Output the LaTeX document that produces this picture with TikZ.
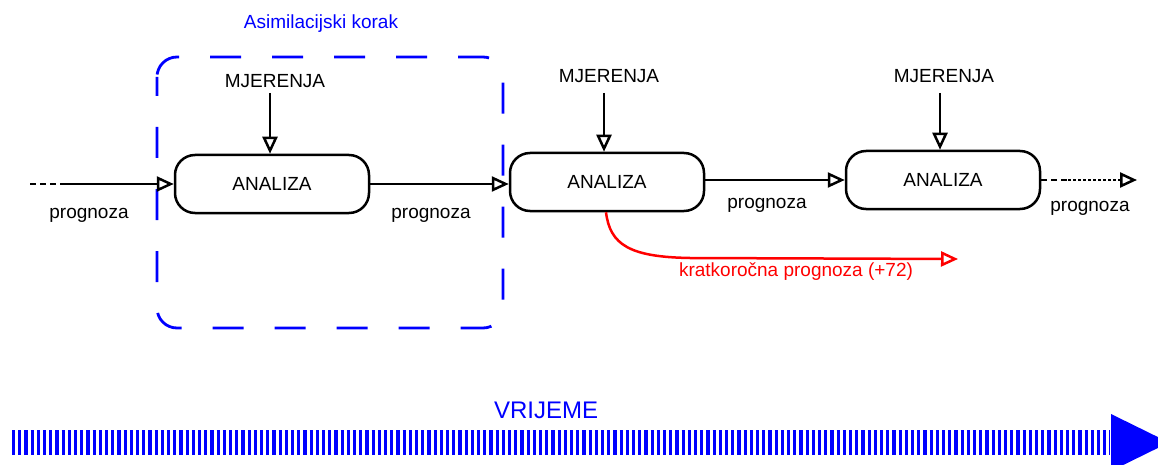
\documentclass[tikz,border=0pt]{standalone}
\usepackage{fontspec}
\setmainfont{Liberation Sans}
\usetikzlibrary{arrows.meta}
\definecolor{pureblue}{RGB}{0,0,255}
\definecolor{purered}{RGB}{255,0,0}
\begin{document}
\begin{tikzpicture}[x=1pt,y=-1pt,
  txt/.style={inner sep=0pt,font=\fontsize{19}{21}\selectfont},
  anbox/.style={draw,line width=2.5pt,rounded corners=20pt,minimum width=194pt,minimum height=58pt,inner sep=0pt,font=\fontsize{19}{21}\selectfont},
  otip/.style={-{Triangle[open,length=17pt,width=15pt,line width=2.5pt]}},
  conn/.style={line width=2.5pt,otip},
]
\useasboundingbox (0,0) rectangle (1158,465);
\clip (0,0) rectangle (1158,465);

% assimilation frame
\draw[pureblue,line width=2.8pt,rounded corners=20pt,dash pattern=on 31pt off 31pt,dash phase=12pt] (157,57) rectangle (503,328);
\node[txt,text=pureblue] (asim) at (321,24) {Asimilacijski korak};

% boxes
\node[anbox] (b1) at (272,184) {\raisebox{-6pt}{ANALIZA}};
\node[anbox] (b2) at (607,182) {\raisebox{-4pt}{ANALIZA}};
\node[anbox] (b3) at (943,180) {\raisebox{-6pt}{ANALIZA}};

% measurements
\node[txt] (m1) at (275,81) {MJERENJA};
\node[txt] (m2) at (609,76) {MJERENJA};
\node[txt] (m3) at (944,76) {MJERENJA};
\coordinate (m1s) at (270,93);
\coordinate (m2s) at (604,93);
\coordinate (m3s) at (940,93);
\draw[conn] (m1s) -- (m1s |- b1.north);
\draw[conn] (m2s) -- (m2s |- b2.north);
\draw[conn] (m3s) -- (m3s |- b3.north);

% forecast chain
\coordinate (s0) at (30,184);
\coordinate (s1) at (60,184);
\draw[line width=2.5pt,dash pattern=on 6pt off 4pt] (s0) -- (s1);
\draw[conn] (s1) -- (b1.west);
\draw[conn] (b1.east) -- (b1.east -| b2.west);
\draw[conn] (b2.east |- b3.west) -- (b3.west);
\coordinate (e1) at (1068,180);
\coordinate (e2) at (1137,180);
\draw[line width=2.5pt,dash pattern=on 6pt off 4pt] (b3.east) -- (e1);
\draw[line width=2.5pt,dash pattern=on 2.5pt off 2.5pt,otip] (e1) -- (e2);

\node[txt] (p1) at (89,215) {prognoza};
\node[txt] (p2) at (431,215) {prognoza};
\node[txt] (p3) at (767,205) {prognoza};
\node[txt] (p4) at (1090,208) {prognoza};

% short-range forecast
\coordinate (r1) at (958,259);
\draw[purered,line width=2.5pt,-{Triangle[open,length=17pt,width=15pt,line width=2.5pt]}]
  (b2.south -| 606,0) .. controls (610,245) and (630,257) .. (690,258) -- (r1);
\node[txt,text=purered] (kp) at (796,272) {kratkoročna prognoza (+72)};

% time axis
\node[txt,text=pureblue,font=\fontsize{24}{26}\selectfont] (vr) at (546,410) {VRIJEME};
\coordinate (t0) at (12,442.5);
\coordinate (t1) at (1110,442.5);
\draw[pureblue,line width=25pt,dash pattern=on 3.2pt off 3pt] (t0) -- (t1);
\coordinate (ta) at (1111,414);
\coordinate (tb) at (1169,442.5);
\coordinate (tc) at (1111,471);
\fill[pureblue] (ta) -- (tb) -- (tc) -- cycle;
\end{tikzpicture}
\end{document}
